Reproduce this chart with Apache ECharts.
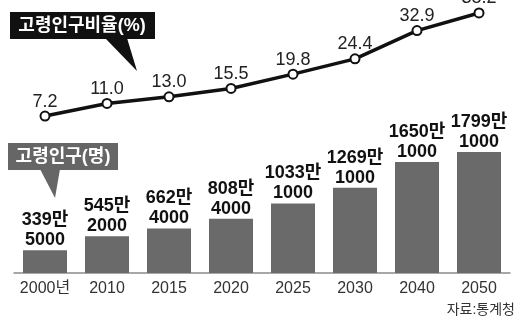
<!DOCTYPE html>
<html>
<head>
<meta charset="utf-8">
<script src="https://cdn.jsdelivr.net/npm/echarts@6/dist/echarts.min.js"></script>
<style>
    html, body { margin: 0; padding: 0; background: #fff; }
    #chart { width: 524px; height: 327px; }
</style>
</head>
<body>
<div id="chart"></div>
<script>
var years = ['2000년', '2010', '2015', '2020', '2025', '2030', '2040', '2050'];
// 고령인구비율(%)
var ratio = [7.2, 11.0, 13.0, 15.5, 19.8, 24.4, 32.9, 38.2];
// 고령인구(명)
var elderly = [3395000, 5452000, 6624000, 8084000, 10331000, 12691000, 16501000, 17991000];

var font = "'Liberation Sans', 'Noto Sans CJK KR', sans-serif";

function manLabel(v) {
    var man = Math.floor(v / 10000);
    var rest = String(v % 10000);
    while (rest.length < 4) rest = '0' + rest;
    return man + '만\n' + rest;
}

var option = {
    backgroundColor: '#fff',
    animation: false,
    textStyle: { fontFamily: font },
    grid: [
        { left: 14, right: 14, top: 138.5, height: 134.5 },
        { left: 14, right: 14, top: 7, height: 133 }
    ],
    xAxis: [
        {
            type: 'category',
            gridIndex: 0,
            data: years,
            axisTick: { show: false },
            axisLine: { lineStyle: { color: '#8a8a8a', width: 1.5 } },
            axisLabel: { interval: 0, color: '#333', fontSize: 16, margin: 8, fontFamily: font }
        },
        {
            type: 'category',
            gridIndex: 1,
            data: years,
            show: false
        }
    ],
    yAxis: [
        { type: 'value', gridIndex: 0, min: 0, max: 20000000, show: false },
        { type: 'value', gridIndex: 1, min: 0, max: 40, show: false }
    ],
    series: [
        {
            name: '고령인구',
            type: 'bar',
            xAxisIndex: 0,
            yAxisIndex: 0,
            barWidth: 44,
            data: elderly,
            itemStyle: { color: '#6a6a6a' },
            label: {
                show: true,
                position: 'top',
                distance: 0,
                color: '#111',
                fontWeight: 'bold',
                fontSize: 18,
                lineHeight: 20,
                fontFamily: font,
                formatter: function (p) { return manLabel(p.value); }
            }
        },
        {
            name: '고령인구비율',
            type: 'line',
            xAxisIndex: 1,
            yAxisIndex: 1,
            data: ratio,
            symbol: 'circle',
            symbolSize: 9,
            lineStyle: { color: '#111', width: 3.5 },
            itemStyle: { color: '#fff', borderColor: '#111', borderWidth: 2 },
            label: {
                show: true,
                position: 'top',
                distance: 0,
                color: '#222',
                fontSize: 18,
                fontFamily: font,
                formatter: function (p) { return p.value.toFixed(1); }
            }
        }
    ],
    graphic: [
        // 고령인구비율 callout
        {
            type: 'polygon',
            shape: { points: [[105, 38], [127, 38], [137, 71]] },
            style: { fill: '#111' }
        },
        {
            type: 'rect',
            shape: { x: 10, y: 12, width: 145, height: 27 },
            style: { fill: '#111' }
        },
        {
            type: 'text',
            x: 82, y: 26,
            style: {
                text: '고령인구비율(%)', fill: '#fff', font: 'bold 18px ' + font,
                align: 'center', verticalAlign: 'middle'
            }
        },
        // 고령인구 callout
        {
            type: 'polygon',
            shape: { points: [[40, 169], [60, 169], [55, 198]] },
            style: { fill: '#666' }
        },
        {
            type: 'rect',
            shape: { x: 8, y: 143, width: 110, height: 27 },
            style: { fill: '#666' }
        },
        {
            type: 'text',
            x: 63, y: 157,
            style: {
                text: '고령인구(명)', fill: '#fff', font: 'bold 18px ' + font,
                align: 'center', verticalAlign: 'middle'
            }
        },
        {
            type: 'text',
            right: 9, top: 303,
            style: { text: '자료:통계청', fill: '#333', font: '14px ' + font }
        }
    ]
};

var chart = echarts.init(document.getElementById('chart'));
chart.setOption(option);
</script>
</body>
</html>
